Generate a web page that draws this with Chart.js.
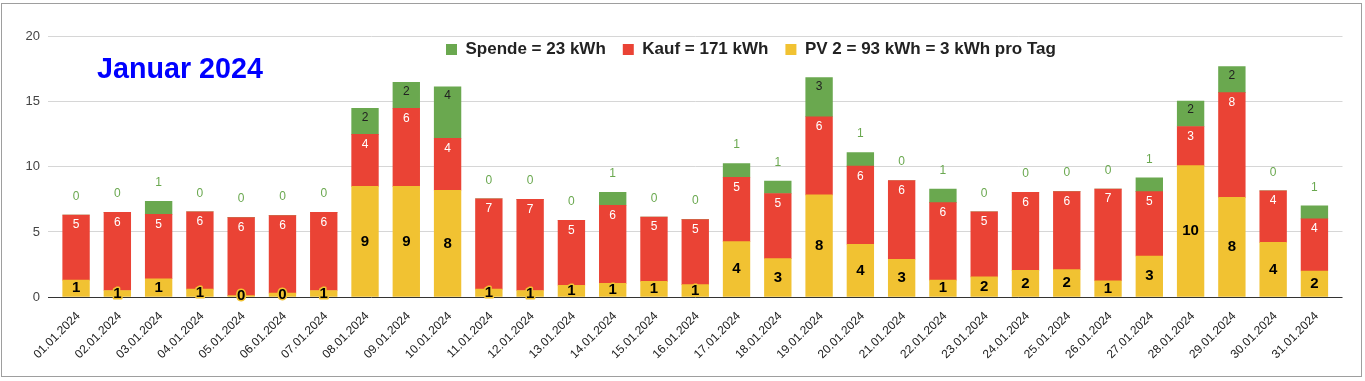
<!DOCTYPE html>
<html><head><meta charset="utf-8">
<script src="https://cdn.jsdelivr.net/npm/chart.js@4/dist/chart.umd.min.js"></script>
<style>html,body{margin:0;padding:0;background:#fff;overflow:hidden}#wrap{width:1365px;height:381px}</style>
</head><body><div id="wrap"><canvas id="c" width="1365" height="381"></canvas></div>
<script>
const categories = ['01.01.2024','02.01.2024','03.01.2024','04.01.2024','05.01.2024','06.01.2024','07.01.2024','08.01.2024','09.01.2024','10.01.2024','11.01.2024','12.01.2024','13.01.2024','14.01.2024','15.01.2024','16.01.2024','17.01.2024','18.01.2024','19.01.2024','20.01.2024','21.01.2024','22.01.2024','23.01.2024','24.01.2024','25.01.2024','26.01.2024','27.01.2024','28.01.2024','29.01.2024','30.01.2024','31.01.2024'];
const pv     = [1.3, 0.5, 1.4, 0.6, 0.1, 0.3, 0.5, 8.5, 8.5, 8.2, 0.6, 0.5, 0.9, 1.05, 1.2, 0.95, 4.25, 2.95, 7.85, 4.05, 2.9, 1.3, 1.55, 2.05, 2.1, 1.25, 3.15, 10.1, 7.65, 4.2, 2.0];
const kauf   = [5.0, 6.0, 4.95, 5.95, 6.0, 5.95, 6.0, 4.0, 6.0, 4.0, 6.95, 7.0, 5.0, 6.0, 4.95, 5.0, 4.95, 5.0, 6.0, 6.0, 6.05, 5.95, 5.0, 6.0, 6.0, 7.05, 4.95, 3.0, 8.05, 3.95, 4.0];
const spende = [0, 0, 1, 0, 0, 0, 0, 2, 2, 3.95, 0, 0, 0, 1, 0, 0, 1.05, 0.95, 3, 1.05, 0, 1.05, 0, 0, 0, 0, 1.05, 1.95, 2, 0, 1];
const yTicks = [0, 5, 10, 15, 20];
const titleText = 'Januar 2024';
const legendSpende = 'Spende = 23 kWh';
const legendKauf = 'Kauf = 171 kWh';
const legendPV = 'PV 2 = 93 kWh = 3 kWh pro Tag';

const COL = { pv: '#f1c232', kauf: '#ea4335', spende: '#6aa84f' };
const FONT = '"Liberation Sans", Arial, sans-serif';
Chart.defaults.font.family = FONT;

const toPts = arr => arr.map((y, i) => ({ x: i, y }));

const placePlugin = {
  id: 'place',
  afterLayout(chart) {
    const lg = chart.legend;
    if (lg) { lg.left = 429; lg.right = 429 + 2000; lg.top = 24; lg.bottom = 24 + 40; }
    const t = chart.titleBlock;
    if (t) { t.left = 97; t.right = 97 + 500; t.top = 56; t.bottom = 56 + 29; }
  }
};

const framePlugin = {
  id: 'frame',
  beforeDraw(chart) {
    const c = chart.ctx; c.save(); c.fillStyle = '#fff'; c.fillRect(0, 0, chart.width, chart.height); c.restore();
  },
  afterDraw(chart) {
    const c = chart.ctx; c.save(); c.strokeStyle = '#9e9e9e'; c.lineWidth = 1;
    c.strokeRect(1.5, 3.5, 1360, 373); c.restore();
  }
};

const labelPlugin = {
  id: 'barLabels',
  afterDatasetsDraw(chart) {
    const ctx = chart.ctx;
    ctx.save();
    ctx.textAlign = 'center';
    ctx.textBaseline = 'middle';
    chart.data.datasets.forEach((ds, di) => {
      const meta = chart.getDatasetMeta(di);
      meta.data.forEach((el, i) => {
        const v = ds.data[i].y;
        const txt = String(Math.round(v));
        const top = Math.min(el.y, el.base), bot = Math.max(el.y, el.base);
        if (ds.key === 'pv') {
          ctx.font = 'bold 15px ' + FONT;
          const y = (top + bot) / 2;
          ctx.lineJoin = 'round'; ctx.lineWidth = 3; ctx.strokeStyle = COL.pv;
          ctx.strokeText(txt, el.x, y);
          ctx.fillStyle = '#000'; ctx.fillText(txt, el.x, y);
        } else if (ds.key === 'kauf') {
          ctx.font = '12px ' + FONT;
          ctx.fillStyle = '#fff';
          ctx.fillText(txt, el.x, top + 10);
        } else {
          ctx.font = '12px ' + FONT;
          if (bot - top >= 20) { ctx.fillStyle = '#222'; ctx.fillText(txt, el.x, top + 9); }
          else { ctx.fillStyle = COL.spende; ctx.fillText(txt, el.x, top - 18.5); }
        }
      });
    });
    ctx.restore();
  }
};

new Chart(document.getElementById('c'), {
  type: 'bar',
  data: {
    datasets: [
      { key: 'pv', label: legendPV, data: toPts(pv), backgroundColor: COL.pv, stack: 's' },
      { key: 'kauf', label: legendKauf, data: toPts(kauf), backgroundColor: COL.kauf, stack: 's' },
      { key: 'spende', label: legendSpende, data: toPts(spende), backgroundColor: COL.spende, stack: 's' }
    ]
  },
  options: {
    responsive: false,
    devicePixelRatio: 1,
    animation: false,
    layout: { padding: { top: 7, left: 0, right: 22.5, bottom: 0 } },
    datasets: { bar: { grouped: false, barThickness: 26.7, borderWidth: 0 } },
    plugins: {
      title: { display: true, text: titleText, align: 'start', color: '#0000ff', font: { size: 28.7, weight: 'bold', lineHeight: 1 }, padding: 0 },
      legend: { display: true, position: 'top', align: 'start', reverse: true, maxHeight: 1,
        labels: { boxWidth: 11, boxHeight: 11, padding: 17, color: '#222', font: { size: 17, weight: 'bold' } } },
      tooltip: { enabled: false }
    },
    scales: {
      x: {
        type: 'linear', stacked: true, min: -0.68, max: 30.68, bounds: 'data', offset: false,
        grid: { display: false, drawTicks: false }, border: { display: false },
        ticks: { stepSize: 1, autoSkip: false, includeBounds: false, minRotation: 45, maxRotation: 45, padding: 12, labelOffset: -11,
          color: '#222', font: { size: 12 }, callback: v => categories[Math.round(v)] ?? '' },
        afterFit: s => { s.height = 84; }
      },
      y: {
        stacked: true, min: yTicks[0], max: yTicks[yTicks.length - 1],
        afterBuildTicks: s => { s.ticks = yTicks.map(v => ({ value: v })); },
        ticks: { padding: 8, color: '#444', font: { size: 13 } },
        grid: { color: c => (c.tick && c.tick.value === 0) ? '#333' : '#d6d6d6', drawTicks: false },
        border: { display: false },
        afterFit: s => { s.width = 48; }
      }
    }
  },
  plugins: [placePlugin, framePlugin, labelPlugin]
});
</script></body></html>
